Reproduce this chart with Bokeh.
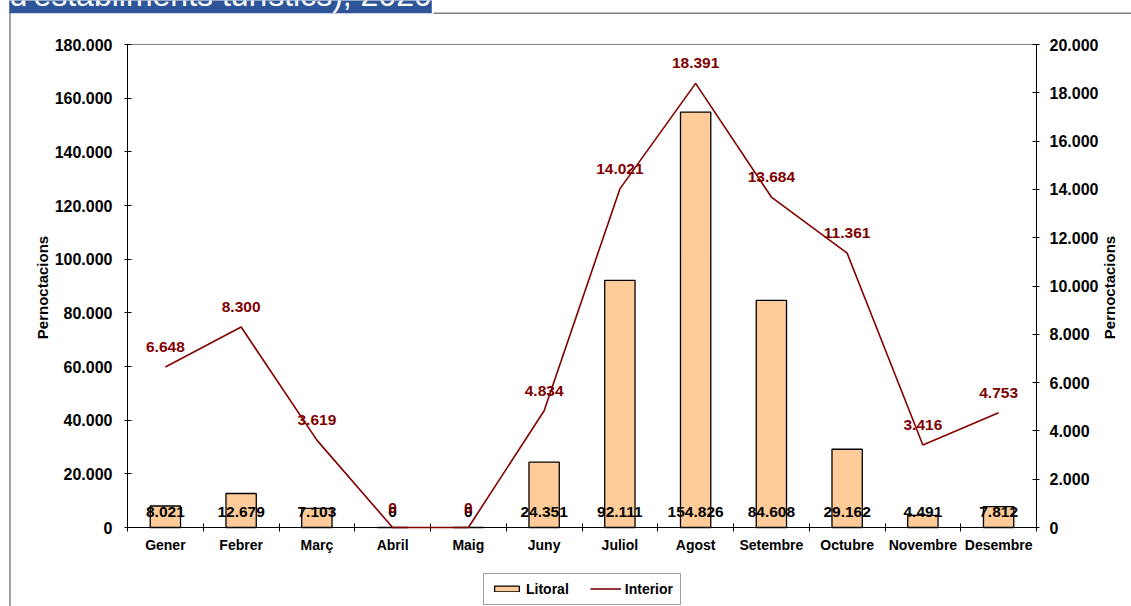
import math
from bokeh.plotting import figure
from bokeh.models import (Range1d, LinearAxis, FixedTicker, CustomJSTickFormatter,
                          Legend, LegendItem, Label, BoxAnnotation, Span,
                          ColumnDataSource)
from bokeh.core.properties import value
from bokeh.embed import file_html
from bokeh.resources import INLINE

# ---- data ----
months = ["Gener", "Febrer", "Març", "Abril", "Maig", "Juny", "Juliol",
          "Agost", "Setembre", "Octubre", "Novembre", "Desembre"]
litoral = [8021, 12679, 7103, 0, 0, 24351, 92111, 154826, 84608, 29162, 4491, 7812]
interior = [6648, 8300, 3619, 0, 0, 4834, 14021, 18391, 13684, 11361, 3416, 4753]
left_ticks = [0, 20000, 40000, 60000, 80000, 100000, 120000, 140000, 160000, 180000]
right_ticks = [0, 2000, 4000, 6000, 8000, 10000, 12000, 14000, 16000, 18000, 20000]
title_text = "d'establiments turístics), 2020"
axis_title = "Pernoctacions"

# ---- layout (pixels) ----
W, H = 1131, 606
PL, PR, PT, PB = 127, 1036, 44, 527          # plot-area box
FONT = "Liberation Sans"
BAR_FILL = "#FFCC99"
LINE_COL = "#800000"
TITLE_BG = "#2E5597"

n = len(months)
cat_w = (PR - PL) / n
x_start, x_end = -PL / cat_w, (W - PL) / cat_w
ly = left_ticks[-1] / (PB - PT)
y_start, y_end = -(H - PB) * ly, left_ticks[-1] + PT * ly
ry = right_ticks[-1] / (PB - PT)
r_start, r_end = -(H - PB) * ry, right_ticks[-1] + PT * ry


def px(xp):
    return x_start + xp / W * (x_end - x_start)


def py(yp):
    return y_end - yp / H * (y_end - y_start)


def fmt(v):
    return f"{v:,}".replace(",", ".")


xs = [i + 0.5 for i in range(n)]
src = ColumnDataSource(dict(
    x=xs, litoral=litoral, interior=interior,
    lit_lab=[fmt(v) for v in litoral], int_lab=[fmt(v) for v in interior],
    zero=[0] * n))

p = figure(width=W, height=H, output_backend="svg", toolbar_location=None,
           x_range=Range1d(x_start, x_end), y_range=Range1d(y_start, y_end),
           min_border=0, min_border_left=0, min_border_right=0,
           min_border_top=0, min_border_bottom=0)
p.extra_y_ranges = {"right": Range1d(r_start, r_end)}
p.grid.visible = False
p.outline_line_color = None
p.background_fill_color = "white"
p.border_fill_color = "white"

num_code = "return Math.round(tick).toFixed(0).replace(/\\B(?=(\\d{3})+(?!\\d))/g, '.');"

# x axis (categories)
xa = p.xaxis[0]
xa.fixed_location = 0
xa.bounds = (0, n)
xa.ticker = FixedTicker(ticks=xs, minor_ticks=list(range(n + 1)))
xa.formatter = CustomJSTickFormatter(args=dict(cats=months),
                                     code="return cats[Math.floor(tick)] || '';")
xa.major_tick_in = 0
xa.major_tick_out = 0
xa.minor_tick_in = 4
xa.minor_tick_out = 4
xa.minor_tick_line_color = "black"
xa.axis_line_color = "black"
xa.major_label_text_font = FONT
xa.major_label_text_font_size = "14px"
xa.major_label_text_font_style = "bold"
xa.major_label_text_color = "black"
xa.major_label_standoff = 5


def style_y(ax, standoff):
    ax.major_tick_in = 4
    ax.major_tick_out = 3
    ax.minor_tick_in = 0
    ax.minor_tick_out = 0
    ax.axis_line_color = "black"
    ax.major_tick_line_color = "black"
    ax.major_label_text_font = FONT
    ax.major_label_text_font_size = "16px"
    ax.major_label_text_font_style = "bold"
    ax.major_label_text_color = "black"
    ax.major_label_standoff = standoff


ya = p.yaxis[0]
ya.fixed_location = 0
ya.bounds = (0, left_ticks[-1])
ya.ticker = FixedTicker(ticks=left_ticks)
ya.formatter = CustomJSTickFormatter(code=num_code)
style_y(ya, 12)

ra = LinearAxis(y_range_name="right", fixed_location=n,
                bounds=(0, right_ticks[-1]), ticker=FixedTicker(ticks=right_ticks),
                formatter=CustomJSTickFormatter(code=num_code))
style_y(ra, 10)
p.add_layout(ra, "right")

# top edge of the plot area
ta = LinearAxis(fixed_location=left_ticks[-1], bounds=(0, n),
                ticker=FixedTicker(ticks=[]), axis_line_color="#808080",
                axis_line_width=1, major_tick_in=0, major_tick_out=0,
                minor_tick_in=0, minor_tick_out=0)
p.add_layout(ta, "above")

# axis titles
lab_style = dict(text_font=FONT, text_font_size="15px", text_font_style="bold",
                 text_color="black", text_align="center", text_baseline="middle",
                 angle=math.pi / 2)
p.add_layout(Label(x=px(42), y=py(287), text=axis_title, **lab_style))
p.add_layout(Label(x=px(1109), y=py(287), text=axis_title, **lab_style))

# bars
bars = p.vbar(x="x", top="litoral", width=0.4, source=src,
              fill_color=BAR_FILL, line_color="black", line_width=1.3)
p.text(x="x", y="zero", text="lit_lab", source=src, text_align="center",
       text_baseline="middle", y_offset=-16, text_font=value(FONT),
       text_font_style="bold", text_font_size="15.5px", text_color="black")
p.text(x="x", y="interior", text="int_lab", source=src, y_range_name="right",
       text_align="center", text_baseline="middle", y_offset=-20,
       text_font=value(FONT), text_font_style="bold", text_font_size="15.5px",
       text_color=LINE_COL)
line = p.line(x="x", y="interior", source=src, y_range_name="right",
              line_color=LINE_COL, line_width=1.6, level="annotation")

legend = Legend(items=[LegendItem(label="Litoral", renderers=[bars]),
                       LegendItem(label="Interior", renderers=[line])],
                orientation="horizontal", location=(483, 1.5), padding=7,
                spacing=21, label_standoff=4, glyph_width=31, glyph_height=7,
                label_height=11, margin=0,
                label_text_font=FONT, label_text_font_size="14px",
                label_text_font_style="bold", label_text_color="black",
                border_line_color="#404040", border_line_width=1,
                background_fill_color="white", background_fill_alpha=1)
p.add_layout(legend)

# chart-area border and title bar
p.add_layout(Span(location=px(9.5), dimension="height", line_color="#6E6E6E",
                  line_width=1.3))
p.add_layout(BoxAnnotation(left=px(433), right=px(W), top=py(12), bottom=py(13.4),
                           fill_color="#808080", fill_alpha=1, line_color=None))
p.add_layout(Label(x=px(9), y=py(12.8), text=title_text, text_color="white",
                   text_font=FONT, text_font_size="32px",
                   text_baseline="bottom", text_align="left",
                   background_fill_color=TITLE_BG, background_fill_alpha=1))

open("out.html", "w").write(file_html(p, INLINE))
